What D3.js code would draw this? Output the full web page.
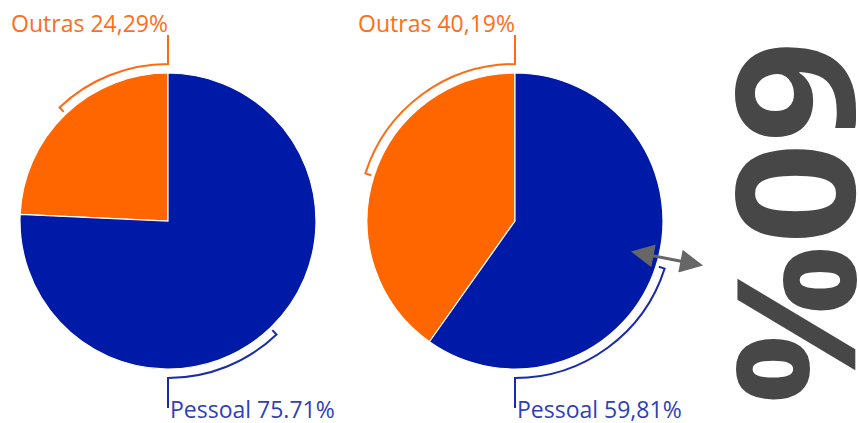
<!DOCTYPE html>
<html>
<head>
<meta charset="utf-8">
<script src="https://cdn.jsdelivr.net/npm/d3@7"></script>
<style>
  body { margin: 0; background: #fff; }
  text { font-family: "Open Sans", sans-serif; }
</style>
</head>
<body>
<div class="chart"></div>
<script>
var svgWidth = 860;
var svgHeight = 423;

// data
var categories = ["Outras", "Pessoal"];
var valuesLeft = [24.29, 75.71];
var valuesRight = [40.19, 59.81];
var labelsLeft = ["Outras 24,29%", "Pessoal 75.71%"];
var labelsRight = ["Outras 40,19%", "Pessoal 59,81%"];
var bigLabel = "60%";

var fillColors = ["#ff6600", "#001aa8"];
var lineColors = ["#ff6a13", "#1a2ba8"];
var textColors = ["#ff6d1a", "#2f40b8"];

var svg = d3.select(".chart")
    .append("svg")
    .attr("width", svgWidth)
    .attr("height", svgHeight);

var color = d3.scaleOrdinal().domain(categories).range(fillColors);

var radius = 148;
var bracketR = 157;
var tickR = 151;

// pie angle (from 12 o'clock) -> canvas angle
function ca(a) { return a - Math.PI / 2; }

function drawPie(cx, cy, values, labels) {
    var data = categories.map((c, i) => ({ cat: c, value: values[i], label: labels[i] }));
    var a = 2 * Math.PI * values[0] / 100;
    var pie = d3.pie()
        .sort(null)
        .value(d => d.value)
        .startAngle(-a)
        .endAngle(2 * Math.PI - a);
    var arcs = pie(data);

    var g = svg.append("g").attr("transform", `translate(${cx}, ${cy})`);

    g.selectAll("path.slice")
        .data(arcs)
        .enter()
        .append("path")
        .attr("class", "slice")
        .attr("d", d3.arc().innerRadius(0).outerRadius(radius))
        .attr("fill", d => color(d.data.cat))
        .attr("stroke", "#fff")
        .attr("stroke-width", 1.2);

    // brackets: half of the "Outras" angle, at the top and at the bottom
    var half = a / 2;
    var spans = [[-half, 0], [Math.PI - half, Math.PI]];
    spans.forEach(function(s, i) {
        var p = d3.path();
        var a0 = s[0], a1 = s[1];
        p.moveTo(tickR * Math.sin(a0), -tickR * Math.cos(a0));
        p.lineTo(bracketR * Math.sin(a0), -bracketR * Math.cos(a0));
        p.arc(0, 0, bracketR, ca(a0), ca(a1));
        if (i === 0) {
            p.lineTo(0, -bracketR - 29);
        } else {
            p.lineTo(0, bracketR + 30);
        }
        g.append("path")
            .attr("d", p.toString())
            .attr("fill", "none")
            .attr("stroke", lineColors[i])
            .attr("stroke-width", 2);
    });

    g.append("text")
        .attr("x", 0)
        .attr("y", -bracketR - 32)
        .attr("text-anchor", "end")
        .attr("font-size", 23)
        .attr("fill", textColors[0])
        .text(data[0].label);

    g.append("text")
        .attr("x", 2)
        .attr("y", bracketR + 40)
        .attr("text-anchor", "start")
        .attr("font-size", 23)
        .attr("fill", textColors[1])
        .text(data[1].label);
}

drawPie(168, 221, valuesLeft, labelsLeft);
drawPie(515, 221, valuesRight, labelsRight);

// double arrow
var defs = svg.append("defs");
defs.append("marker")
    .attr("id", "head")
    .attr("viewBox", "0 0 10 10")
    .attr("refX", 2)
    .attr("refY", 5)
    .attr("markerUnits", "userSpaceOnUse")
    .attr("markerWidth", 27)
    .attr("markerHeight", 23)
    .attr("orient", "auto-start-reverse")
    .append("path")
    .attr("d", "M0,0 L10,5 L0,10 Z")
    .attr("fill", "#666");

svg.append("line")
    .attr("x1", 649).attr("y1", 255)
    .attr("x2", 685).attr("y2", 262)
    .attr("stroke", "#666")
    .attr("stroke-width", 3)
    .attr("marker-start", "url(#head)")
    .attr("marker-end", "url(#head)");

svg.append("text")
    .attr("transform", "translate(737, 223) rotate(90)")
    .attr("text-anchor", "middle")
    .attr("font-size", 166)
    .attr("font-weight", 700)
    .attr("fill", "#474747")
    .attr("textLength", 364)
    .attr("lengthAdjust", "spacingAndGlyphs")
    .text(bigLabel);
</script>
</body>
</html>
